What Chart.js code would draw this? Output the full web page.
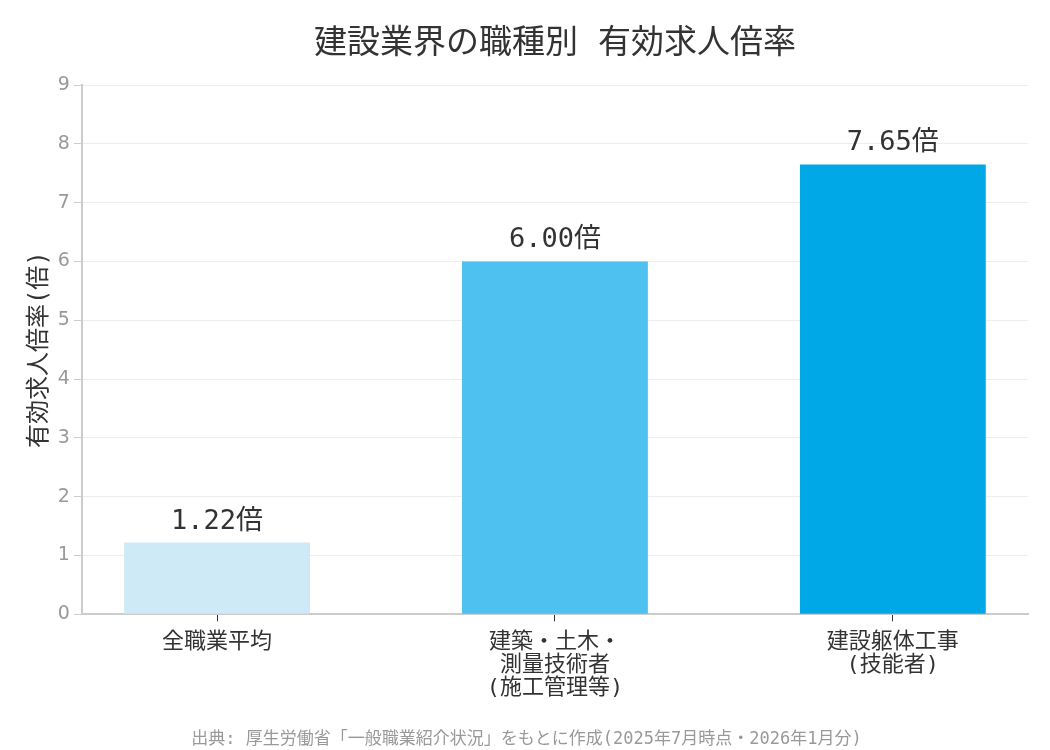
<!DOCTYPE html>
<html lang="ja">
<head>
<meta charset="utf-8">
<script src="https://cdn.jsdelivr.net/npm/chart.js@4"></script>
<style>
  html,body{margin:0;padding:0;background:#fff;}
  #wrap{width:1050px;height:750px;position:relative;}
</style>
</head>
<body>
<div id="wrap"><canvas id="chart" width="1050" height="750"></canvas></div>
<script>
// 建設業界の職種別 有効求人倍率
const titleText='建設業界の職種別 有効求人倍率';
const sourceText='出典: 厚生労働省「一般職業紹介状況」をもとに作成(2025年7月時点・2026年1月分)';
const categories=[
  ['全職業平均'],
  ['建築・土木・','測量技術者','(施工管理等)'],
  ['建設躯体工事','(技能者)']
];
const ratios=[1.22,6.00,7.65];
const barColors=['#cdeaf6','#4fc1f0','#00a8e8'];
const yTicks=[0,1,2,3,4,5,6,7,8,9];

const MONO="'DejaVu Sans Mono','Noto Sans CJK JP',monospace";
const SANS="'DejaVu Sans','Noto Sans CJK JP',sans-serif";

// 値ラベルとタイトル(プロット領域の中央に揃える)
const valueLabels={
  id:'valueLabels',
  afterDatasetsDraw(chart){
    const c=chart.ctx;
    const meta=chart.getDatasetMeta(0);
    const area=chart.chartArea;
    c.save();
    c.fillStyle='#333';
    c.textAlign='center';
    c.textBaseline='alphabetic';
    c.font=`27px ${MONO}`;
    meta.data.forEach((bar,i)=>{
      c.fillText(ratios[i].toFixed(2)+'倍',bar.x,bar.y-14);
    });
    c.font=`33px ${MONO}`;
    c.textBaseline='middle';
    c.fillText(titleText,(area.left+area.right)/2,44);
    c.restore();
  }
};

new Chart(document.getElementById('chart'),{
  type:'bar',
  data:{
    datasets:[{
      data:ratios.map((v,i)=>({x:i,y:v})),
      backgroundColor:barColors,
      categoryPercentage:1,
      barPercentage:0.55
    }]
  },
  options:{
    responsive:false,
    animation:false,
    devicePixelRatio:1,
    layout:{padding:{left:25,right:22,top:85,bottom:0}},
    plugins:{
      legend:{display:false},
      tooltip:{enabled:false},
      title:{display:false},
      subtitle:{display:true,position:'bottom',text:sourceText,
        color:'#999',font:{family:MONO,size:17},padding:{top:21,bottom:0}}
    },
    scales:{
      x:{
        type:'linear',
        min:-0.4,max:2.4,
        offset:false,
        afterBuildTicks(axis){axis.ticks=categories.map((_,i)=>({value:i}));},
        grid:{display:true,offset:false,drawOnChartArea:false,drawTicks:true,tickLength:7,tickColor:'#333'},
        border:{color:'#ccc',width:2},
        ticks:{color:'#333',font:{family:MONO,size:22,lineHeight:1.05},padding:9,
          autoSkip:false,maxRotation:0,callback:v=>categories[v]}
      },
      y:{
        min:0,max:9,
        afterBuildTicks(axis){axis.ticks=yTicks.map(v=>({value:v}));},
        grid:{color:'#eee',tickColor:'#ccc',tickLength:8},
        border:{color:'#ccc',width:2},
        ticks:{color:'#999',font:{family:SANS,size:19},padding:4},
        title:{display:true,text:'有効求人倍率(倍)',color:'#333',font:{family:MONO,size:24},padding:0}
      }
    }
  },
  plugins:[valueLabels]
});
</script>
</body>
</html>
